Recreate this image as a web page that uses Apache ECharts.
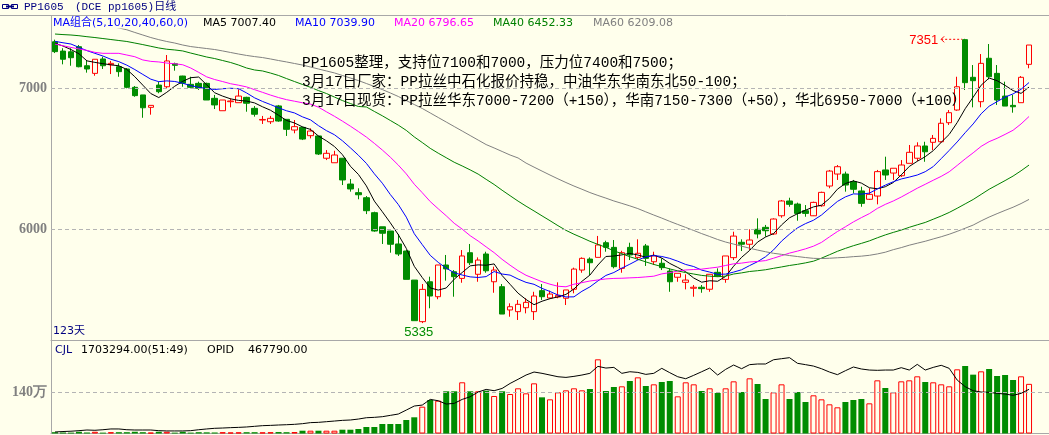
<!DOCTYPE html>
<html><head><meta charset="utf-8">
<script src="https://cdn.jsdelivr.net/npm/echarts@6/dist/echarts.min.js"></script>
<style>html,body{margin:0;padding:0;background:#ffffec;}#c{width:1049px;height:435px;}</style>
</head><body><div id="c"></div>
<script>
// ---- data (123 trading days) ----
const opens = [7330,7264,7259,7295,7160,7106,7208,7167,7153,7137,
7007,6953,6865,7023,7011,7174,7087,7028,7035,7035,
6929,6841,6905,6898,6936,6858,6775,6763,6875,6780,
6704,6723,6664,6662,6504,6472,6504,6321,6260,6224,
6118,6018,5988,5896,5846,5640,5345,5628,5522,5747,
5699,5652,5834,5681,5825,5628,5593,5428,5416,5444,
5416,5565,5513,5520,5511,5575,5711,5789,5801,5905,
5872,5723,5872,5801,5882,5770,5759,5704,5660,5624,
5582,5589,5575,5695,5645,5799,5908,5894,6000,6014,
5967,6096,6201,6179,6132,6096,6167,6307,6392,6392,
6338,6272,6213,6236,6421,6399,6380,6468,6504,6591,
6617,6621,6756,6846,7345,7078,6905,7213,7106,6945,
6879,6898,7170];
const closes = [7260,7206,7217,7153,7137,7206,7160,7177,7118,7007,
6948,6862,6879,6976,7194,7163,7036,7007,7000,6917,
6882,6917,6910,6945,6894,6816,6779,6787,6768,6709,
6728,6640,6697,6534,6539,6527,6350,6286,6245,6132,
5988,5972,5894,5825,5645,5352,5574,5527,5747,5719,
5664,5811,5763,5782,5706,5711,5399,5451,5468,5482,
5527,5522,5541,5532,5570,5718,5794,5763,5889,5872,
5735,5834,5818,5830,5794,5811,5728,5628,5688,5640,
5589,5579,5681,5669,5811,5952,5894,5924,5967,5990,
6073,6201,6177,6113,6113,6191,6262,6413,6444,6314,
6284,6184,6248,6409,6385,6433,6456,6546,6591,6550,
6645,6752,6827,7011,7040,7054,7177,7082,6917,6874,
6869,7078,7307];
const lows = [7250,7170,7160,7149,7111,7089,7137,7101,7082,7000,
6940,6791,6813,6965,7000,7125,7011,7000,6988,6917,
6853,6841,6865,6898,6834,6799,6747,6747,6763,6662,
6681,6633,6645,6527,6491,6472,6314,6267,6213,6108,
5983,5896,5834,5811,5645,5352,5335,5440,5504,5636,
5522,5621,5747,5628,5692,5550,5399,5380,5357,5404,
5357,5499,5511,5511,5463,5546,5692,5676,5801,5841,
5723,5692,5782,5782,5740,5747,5711,5557,5628,5574,
5522,5550,5557,5664,5621,5782,5846,5853,5936,5948,
5960,6082,6160,6061,6089,6094,6160,6291,6350,6267,
6255,6160,6208,6177,6350,6350,6371,6468,6484,6479,
6562,6614,6740,6841,6988,6865,6865,7064,6882,6874,
6827,6898,7142];
const highs = [7345,7284,7284,7307,7201,7206,7224,7194,7177,7144,
7016,6953,6879,7047,7236,7182,7089,7082,7047,7040,
6953,6917,6929,6993,6940,6874,6804,6804,6882,6780,
6775,6728,6716,6662,6562,6557,6506,6357,6291,6236,
6125,6018,5988,5967,5853,5640,5612,5664,5747,5818,
5711,5853,5896,5801,5841,5735,5612,5475,5499,5511,
5557,5612,5565,5624,5570,5728,5801,5801,5953,5919,
5924,5848,5905,5929,5896,5841,5794,5723,5688,5681,
5605,5605,5681,5723,5811,5983,5929,6000,6078,6031,
6078,6208,6224,6189,6172,6196,6267,6421,6456,6409,
6350,6302,6291,6421,6515,6433,6491,6598,6617,6621,
6669,6787,6846,7082,7351,7165,7243,7314,7165,7047,
6953,7087,7307];
const volumes = [45000,35000,30000,60000,35000,60000,30000,45000,45000,45000,
60000,45000,30000,60000,60000,30000,60000,30000,45000,40000,
35000,45000,35000,40000,45000,45000,40000,45000,50000,45000,
50000,96000,96000,96000,96000,96000,130000,130000,154000,223000,
223000,326000,326000,326000,463000,556000,920000,1150000,1126000,1448000,
1448000,1757000,1448000,1448000,1469000,1287000,1448000,1355000,1550000,1378000,
1721000,1241000,1172000,1413000,1481000,1550000,1481000,1527000,2545000,1458000,
1596000,1619000,1801000,1927000,1630000,1687000,1767000,1801000,1275000,1756000,
1687000,1458000,1550000,1390000,1550000,1790000,1424000,1893000,1699000,1184000,
1413000,1687000,1184000,1424000,1081000,1310000,1172000,1001000,898000,1081000,
1150000,1184000,1035000,1824000,1561000,1413000,1790000,1824000,1962000,1767000,
1756000,1687000,1619000,2202000,2316000,2019000,2133000,2213000,1973000,2007000,
1836000,1962000,1703294];
const openInterest = [16000,21000,24000,30000,37000,34000,40000,48000,48000,40000,
37000,37000,37000,30000,27000,27000,27000,30000,40000,48000,
55000,58000,62000,65000,69000,76000,83000,86000,90000,93000,
97000,104000,115000,118000,125000,132000,139000,143000,153000,167000,
171000,178000,192000,206000,248000,291000,301000,361000,347000,312000,
319000,361000,389000,439000,467000,453000,477000,530000,574000,619000,
651000,637000,619000,601000,594000,605000,619000,637000,711000,693000,
700000,637000,654000,647000,626000,637000,690000,644000,601000,580000,
616000,654000,693000,619000,679000,725000,686000,729000,736000,736000,
781000,792000,803000,743000,729000,714000,686000,651000,623000,665000,
704000,683000,672000,669000,672000,672000,697000,672000,732000,672000,
700000,722000,690000,566000,496000,453000,439000,436000,425000,418000,
404000,425000,467790];
// moving-average values before enough visible closes exist
const ma5Head = [7319,7300,7275,7245];
const ma10Head = [7333,7323,7314,7290,7267,7248,7229,7206,7189];
const ma20Head = [7314,7302,7290,7279,7269,7255,7248,7248,7248,7236,7224,7201,7191,7187,7179,7174,7167,7144,7113];
const ma40Head = [7385,7381,7378,7373,7366,7360,7353,7346,7339,7332,7321,7310,7298,7286,7277,7272,7265,7250,7236,7222,
7211,7197,7183,7165,7144,7130,7123,7108,7091,7069,7048,7027,7007,6984,6963,6938,6913,6892,6871];
const ma60Head = [7534,7520,7506,7488,7474,7460,7449,7438,7428,7415,7396,7378,7360,7345,7332,7321,7307,7296,7289,7282,
7275,7265,7254,7243,7233,7225,7218,7208,7197,7187,7176,7165,7151,7137,7123,7109,7091,7073,7055,7034,
7013,6991,6967,6942,6913,6885,6857,6825,6793,6761,6729,6697,6665,6633,6601,6577,6552,6527,6506];
const priceTicks = [6000, 7000];
const volumeTicks = [1400000];
const volumeTickLabels = ['140万'];

// ---- styles ----
const BG = '#ffffec', RED = '#ff0000', GREEN = '#008c00', GRID = '#b4b4b4', AXIS = '#a8a8a8';
const N = closes.length;
const cats = [];
for (let i = 0; i < N + 2; i++) cats.push(i < N ? String(i + 1) : '');

function movingAvg(n, head) {
  return closes.map((c, i) => {
    if (i < n - 1) return head[i];
    let s = 0;
    for (let k = i - n + 1; k <= i; k++) s += closes[k];
    return +(s / n).toFixed(2);
  });
}
const ohlc = opens.map((o, i) => [o, closes[i], lows[i], highs[i]]);
const volData = volumes.map((v, i) => {
  const up = closes[i] >= opens[i];
  return { value: v, itemStyle: up ? { color: BG, borderColor: RED, borderWidth: 1 } : { color: GREEN, borderWidth: 0 } };
});

const chart = echarts.init(document.getElementById('c'), null, { renderer: 'canvas' });
const axisCommon = {
  type: 'category', data: cats, boundaryGap: true,
  axisLine: { show: true, onZero: false, lineStyle: { color: AXIS } },
  axisTick: { show: false }, axisLabel: { show: false }, splitLine: { show: false }
};
const yCommon = {
  type: 'value', axisLine: { show: true, lineStyle: { color: AXIS } },
  axisTick: { show: false }, axisLabel: { show: false }, splitLine: { show: false }
};
const tickLabelStyle = { color: '#808080', fontFamily: 'Liberation Serif', fontWeight: 'bold', fontSize: 14, distance: 4 };
function maLine(name, n, head, color) {
  return { name, type: 'line', xAxisIndex: 0, yAxisIndex: 0, data: movingAvg(n, head), showSymbol: false, symbol: 'none',
    lineStyle: { color, width: 1 }, z: 4, silent: true };
}
const txt = (t, x, y, fill, font, align) => ({ type: 'text', x, y, z: 100, silent: true,
  style: { text: t, fill, font, align: align || 'left', verticalAlign: 'middle' } });
const F11 = '11px "DejaVu Sans", "Noto Sans CJK SC"';
const FNOTE = '14.5px "Liberation Mono", "Noto Sans CJK SC"';

chart.setOption({
  animation: false,
  backgroundColor: BG,
  grid: [
    { left: 51, right: -5.25, top: 29, height: 311 },
    { left: 51, right: -5.25, top: 340, height: 93.5 }
  ],
  xAxis: [Object.assign({ gridIndex: 0 }, axisCommon), Object.assign({ gridIndex: 1 }, axisCommon)],
  yAxis: [
    Object.assign({ gridIndex: 0, min: 5215, max: 7420.6 }, yCommon),
    Object.assign({ gridIndex: 1, min: 0, max: 3208000 }, yCommon),
    { type: 'value', gridIndex: 1, min: 0, max: 990000, show: false }
  ],
  series: [
    { type: 'candlestick', xAxisIndex: 0, yAxisIndex: 0, data: ohlc, barWidth: 6, z: 2, silent: true,
      itemStyle: { color: BG, color0: GREEN, borderColor: RED, borderColor0: GREEN, borderWidth: 1 },
      markLine: { silent: true, symbol: ['none', 'none'], animation: false,
        lineStyle: { color: GRID, type: [4, 3], width: 1 },
        label: Object.assign({ position: 'start', formatter: p => String(p.value) }, tickLabelStyle),
        data: priceTicks.map(v => ({ yAxis: v })) } },
    maLine('MA5', 5, ma5Head, '#000000'),
    maLine('MA10', 10, ma10Head, '#0000ff'),
    maLine('MA20', 20, ma20Head, '#ff00ff'),
    maLine('MA40', 40, ma40Head, '#008000'),
    maLine('MA60', 60, ma60Head, '#808080'),
    { type: 'bar', xAxisIndex: 1, yAxisIndex: 1, data: volData, barWidth: 6, z: 2, silent: true,
      markLine: { silent: true, symbol: ['none', 'none'], animation: false,
        lineStyle: { color: GRID, type: [4, 3], width: 1 },
        label: Object.assign({ position: 'start', formatter: p => volumeTickLabels[volumeTicks.indexOf(p.value)] }, tickLabelStyle),
        data: volumeTicks.map(v => ({ yAxis: v })) } },
    { type: 'line', xAxisIndex: 1, yAxisIndex: 2, data: openInterest, showSymbol: false, symbol: 'none',
      lineStyle: { color: '#000000', width: 1 }, z: 4, silent: true }
  ]
});

// annotations positioned through the axes
const hiIdx = highs.indexOf(Math.max(...highs));
const loIdx = lows.indexOf(Math.min(...lows));
const hp = chart.convertToPixel({ xAxisIndex: 0, yAxisIndex: 0 }, [hiIdx, highs[hiIdx]]);
const lp = chart.convertToPixel({ xAxisIndex: 0, yAxisIndex: 0 }, [loIdx, lows[loIdx]]);
const FLBL = '13px "Liberation Sans"';
const MONO11 = '11px "Liberation Mono", "Noto Sans CJK SC"';

chart.setOption({
  graphic: [
    { type: 'line', z: 100, silent: true, shape: { x1: 0, y1: 15.5, x2: 1049, y2: 15.5 }, style: { stroke: AXIS, lineWidth: 1 } },
    { type: 'line', z: 100, silent: true, shape: { x1: 51.5, y1: 15.5, x2: 51.5, y2: 29 }, style: { stroke: AXIS, lineWidth: 1 } },
    // header icon
    { type: 'rect', z: 100, silent: true, shape: { x: 2.5, y: 4.5, width: 6, height: 4 }, style: { stroke: '#000080', fill: null, lineWidth: 1 } },
    { type: 'rect', z: 100, silent: true, shape: { x: 11.5, y: 4.5, width: 6, height: 4 }, style: { stroke: '#000080', fill: null, lineWidth: 1 } },
    { type: 'line', z: 100, silent: true, shape: { x1: 6, y1: 6.5, x2: 14, y2: 6.5 }, style: { stroke: '#000080', lineWidth: 2 } },
    txt('PP1605', 24, 7, '#000080', MONO11),
    txt('(DCE pp1605)日线', 75, 7, '#000080', MONO11),
    // MA legend
    txt('MA组合(5,10,20,40,60,0)', 53, 23, '#0000ff', F11),
    txt('MA5 7007.40', 203, 23, '#000000', F11),
    txt('MA10 7039.90', 295, 23, '#0000ff', F11),
    txt('MA20 6796.65', 394, 23, '#ff00ff', F11),
    txt('MA40 6452.33', 493, 23, '#008000', F11),
    txt('MA60 6209.08', 593, 23, '#808080', F11),
    // notes
    txt('PP1605整理，支持位7100和7000，压力位7400和7500；', 302, 63, '#000000', FNOTE),
    txt('3月17日厂家：PP拉丝中石化报价持稳，中油华东华南东北50-100；', 302, 82, '#000000', FNOTE),
    txt('3月17日现货：PP拉丝华东7000-7200（+150），华南7150-7300（+50），华北6950-7000（+100）', 302, 101, '#000000', FNOTE),
    // day count
    txt('123天', 53, 331, '#000080', F11),
    // volume legend
    txt('CJL', 55, 350, '#000080', F11),
    txt('1703294.00(51:49)', 81, 350, '#000000', F11),
    txt('OPID', 207, 350, '#000000', F11),
    txt('467790.00', 248, 350, '#000000', F11),
    // high / low labels
    txt(String(highs[hiIdx]), hp[0] - 27, hp[1] + 2, RED, FLBL, 'right'),
    { type: 'polyline', z: 100, silent: true, shape: { points: [[hp[0] - 21, hp[1] - 2.5], [hp[0] - 24, hp[1] + 0.5], [hp[0] - 21, hp[1] + 3.5]] }, style: { stroke: RED, fill: null, lineWidth: 1 } },
    { type: 'line', z: 100, silent: true, shape: { x1: hp[0] - 24, y1: hp[1] + 0.5, x2: hp[0] - 3, y2: hp[1] + 0.5 }, style: { stroke: RED, lineWidth: 1, lineDash: [2, 2] } },
    txt(String(lows[loIdx]), lp[0] - 3.5, lp[1] + 9.5, GREEN, FLBL, 'center')
  ]
});
</script></body></html>
